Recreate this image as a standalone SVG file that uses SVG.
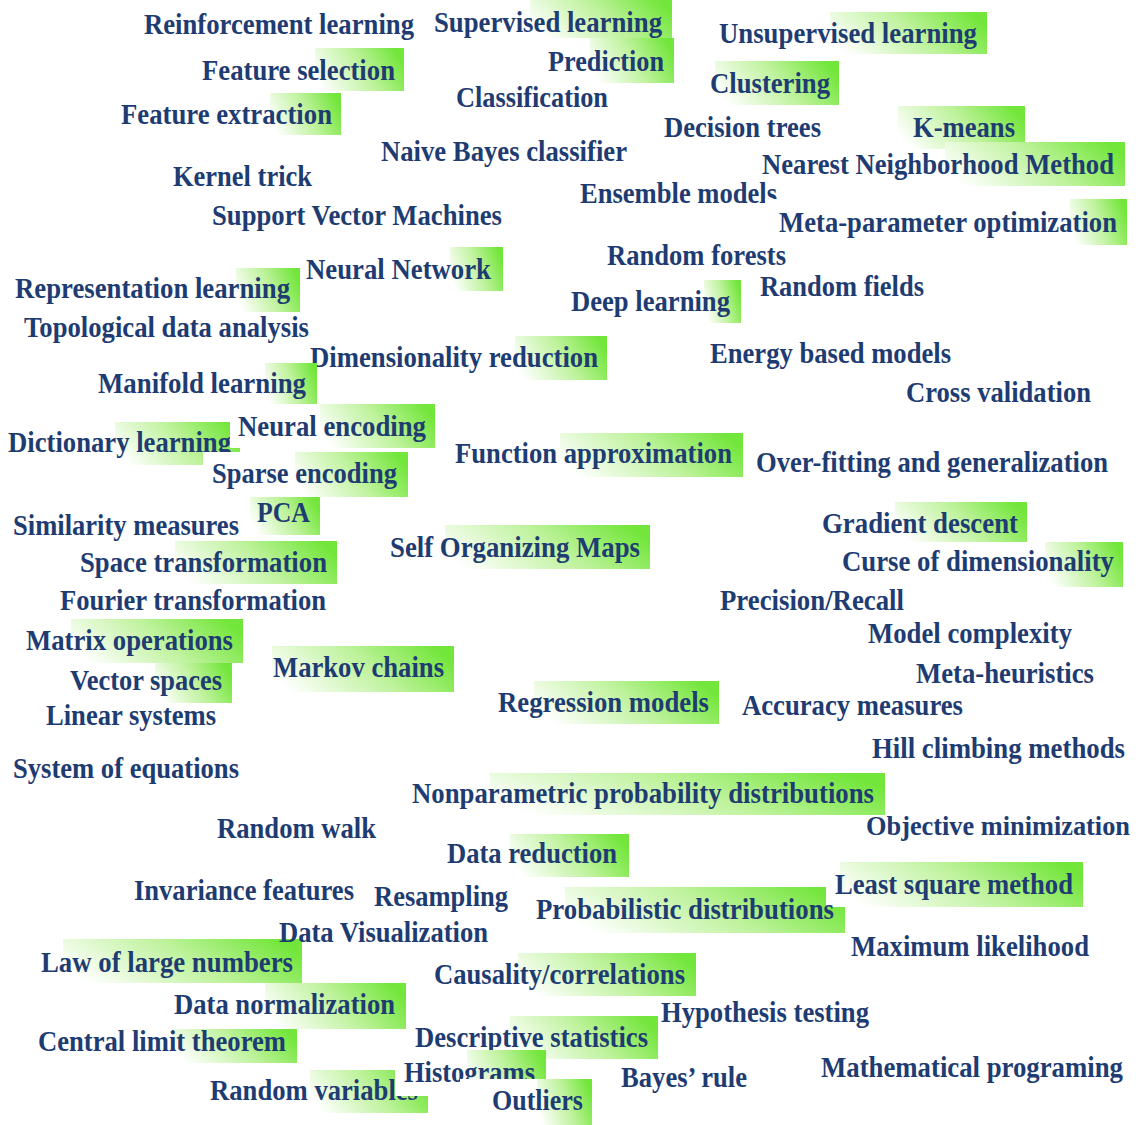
<svg xmlns="http://www.w3.org/2000/svg" width="1147" height="1125" viewBox="0 0 1147 1125">
<defs>
<linearGradient id="hlg" x1="0" y1="0.65" x2="1" y2="0.35">
<stop offset="0" stop-color="#ffffff"/>
<stop offset="0.55" stop-color="#bdf29a"/>
<stop offset="1" stop-color="#72e63a"/>
</linearGradient>
</defs>
<style>
.t{font-family:"Liberation Serif","Times New Roman",serif;font-weight:bold;font-size:29px;fill:#1e3c72}
.s{font-size:27px}
.hl{fill:url(#hlg)}
.cv{fill:#ffffff}
</style>
<rect width="1147" height="1125" fill="#ffffff"/>
<g id="connectors"/>
<g id="n-reinforcement"><text class="t" x="144" y="34" textLength="270" lengthAdjust="spacingAndGlyphs">Reinforcement learning</text></g>
<g id="n-supervised"><rect class="hl" x="530" y="-1" width="142" height="39"/><text class="t" x="434" y="32" textLength="228" lengthAdjust="spacingAndGlyphs">Supervised learning</text></g>
<g id="n-unsupervised"><rect class="hl" x="830" y="12" width="157" height="42"/><text class="t" x="719" y="43" textLength="258" lengthAdjust="spacingAndGlyphs">Unsupervised learning</text></g>
<g id="n-prediction"><rect class="hl" x="590" y="38" width="84" height="45"/><text class="t" x="548" y="71" textLength="116" lengthAdjust="spacingAndGlyphs">Prediction</text></g>
<g id="n-featsel"><rect class="hl" x="315" y="48" width="89" height="43"/><text class="t" x="202" y="80" textLength="193" lengthAdjust="spacingAndGlyphs">Feature selection</text></g>
<g id="n-clustering"><rect class="hl" x="715" y="61" width="124" height="44"/><text class="t" x="710" y="93" textLength="120" lengthAdjust="spacingAndGlyphs">Clustering</text></g>
<g id="n-classification"><text class="t" x="456" y="107" textLength="152" lengthAdjust="spacingAndGlyphs">Classification</text></g>
<g id="n-featext"><rect class="hl" x="270" y="93" width="71" height="42"/><text class="t" x="121" y="124" textLength="211" lengthAdjust="spacingAndGlyphs">Feature extraction</text></g>
<g id="n-dectrees"><text class="t" x="664" y="137" textLength="157" lengthAdjust="spacingAndGlyphs">Decision trees</text></g>
<g id="n-kmeans"><rect class="hl" x="898" y="106" width="127" height="43"/><text class="t" x="913" y="137" textLength="102" lengthAdjust="spacingAndGlyphs">K-means</text></g>
<g id="n-naivebayes"><text class="t" x="381" y="161" textLength="246" lengthAdjust="spacingAndGlyphs">Naive Bayes classifier</text></g>
<g id="n-nearest"><rect class="hl" x="945" y="142" width="180" height="44"/><text class="t" x="762" y="174" textLength="352" lengthAdjust="spacingAndGlyphs">Nearest Neighborhood Method</text></g>
<g id="n-kernel"><text class="t" x="173" y="186" textLength="139" lengthAdjust="spacingAndGlyphs">Kernel trick</text></g>
<g id="n-ensemble"><text class="t" x="580" y="203" textLength="197" lengthAdjust="spacingAndGlyphs">Ensemble models</text></g>
<g id="n-svm"><text class="t" x="212" y="225" textLength="290" lengthAdjust="spacingAndGlyphs">Support Vector Machines</text></g>
<g id="n-metaparam"><rect class="cv" x="765" y="199" width="305" height="46"/><rect class="hl" x="1070" y="199" width="57" height="46"/><text class="t" x="779" y="232" textLength="338" lengthAdjust="spacingAndGlyphs">Meta-parameter optimization</text></g>
<g id="n-randforests"><text class="t" x="607" y="265" textLength="179" lengthAdjust="spacingAndGlyphs">Random forests</text></g>
<g id="n-neuralnet"><rect class="hl" x="450" y="247" width="53" height="44"/><text class="t" x="306" y="279" textLength="185" lengthAdjust="spacingAndGlyphs">Neural Network</text></g>
<g id="n-randfields"><text class="t" x="760" y="296" textLength="164" lengthAdjust="spacingAndGlyphs">Random fields</text></g>
<g id="n-representation"><rect class="hl" x="236" y="268" width="64" height="44"/><text class="t" x="15" y="298" textLength="275" lengthAdjust="spacingAndGlyphs">Representation learning</text></g>
<g id="n-deep"><rect class="hl" x="704" y="280" width="37" height="43"/><text class="t" x="571" y="311" textLength="159" lengthAdjust="spacingAndGlyphs">Deep learning</text></g>
<g id="n-topological"><text class="t" x="24" y="337" textLength="285" lengthAdjust="spacingAndGlyphs">Topological data analysis</text></g>
<g id="n-energy"><text class="t" x="710" y="363" textLength="241" lengthAdjust="spacingAndGlyphs">Energy based models</text></g>
<g id="n-dimred"><rect class="hl" x="515" y="336" width="92" height="44"/><text class="t" x="310" y="367" textLength="288" lengthAdjust="spacingAndGlyphs">Dimensionality reduction</text></g>
<g id="n-manifold"><rect class="hl" x="265" y="363" width="52" height="43"/><text class="t" x="98" y="393" textLength="208" lengthAdjust="spacingAndGlyphs">Manifold learning</text></g>
<g id="n-crossval"><text class="t" x="906" y="402" textLength="185" lengthAdjust="spacingAndGlyphs">Cross validation</text></g>
<g id="n-dictionary"><rect class="hl" x="115" y="422" width="125" height="43"/><text class="t" x="8" y="452" textLength="223" lengthAdjust="spacingAndGlyphs">Dictionary learning</text></g>
<g id="n-neuralenc"><rect class="cv" x="230" y="404" width="90" height="44"/><rect class="hl" x="320" y="404" width="115" height="44"/><text class="t" x="238" y="436" textLength="188" lengthAdjust="spacingAndGlyphs">Neural encoding</text></g>
<g id="n-sparse"><rect class="cv" x="203" y="452" width="92" height="45"/><rect class="hl" x="295" y="452" width="113" height="45"/><text class="t" x="212" y="483" textLength="185" lengthAdjust="spacingAndGlyphs">Sparse encoding</text></g>
<g id="n-funcapprox"><rect class="hl" x="560" y="433" width="183" height="44"/><text class="t" x="455" y="463" textLength="277" lengthAdjust="spacingAndGlyphs">Function approximation</text></g>
<g id="n-overfit"><text class="t" x="756" y="472" textLength="352" lengthAdjust="spacingAndGlyphs">Over-fitting and generalization</text></g>
<g id="n-pca"><rect class="hl" x="250" y="497" width="70" height="38"/><text class="t" x="257" y="522" textLength="53" lengthAdjust="spacingAndGlyphs">PCA</text></g>
<g id="n-similarity"><text class="t" x="13" y="535" textLength="226" lengthAdjust="spacingAndGlyphs">Similarity measures</text></g>
<g id="n-graddesc"><rect class="hl" x="895" y="502" width="132" height="40"/><text class="t" x="822" y="533" textLength="196" lengthAdjust="spacingAndGlyphs">Gradient descent</text></g>
<g id="n-som"><rect class="hl" x="445" y="525" width="205" height="44"/><text class="t" x="390" y="557" textLength="250" lengthAdjust="spacingAndGlyphs">Self Organizing Maps</text></g>
<g id="n-spacetrans"><rect class="hl" x="175" y="541" width="162" height="43"/><text class="t" x="80" y="572" textLength="247" lengthAdjust="spacingAndGlyphs">Space transformation</text></g>
<g id="n-curse"><rect class="hl" x="1045" y="542" width="78" height="45"/><text class="t" x="842" y="571" textLength="272" lengthAdjust="spacingAndGlyphs">Curse of dimensionality</text></g>
<g id="n-fourier"><text class="t" x="60" y="610" textLength="266" lengthAdjust="spacingAndGlyphs">Fourier transformation</text></g>
<g id="n-precision"><text class="t" x="720" y="610" textLength="184" lengthAdjust="spacingAndGlyphs">Precision/Recall</text></g>
<g id="n-modelcomp"><text class="t" x="868" y="643" textLength="204" lengthAdjust="spacingAndGlyphs">Model complexity</text></g>
<g id="n-matrix"><rect class="hl" x="71" y="619" width="172" height="44"/><text class="t" x="26" y="650" textLength="207" lengthAdjust="spacingAndGlyphs">Matrix operations</text></g>
<g id="n-markov"><rect class="hl" x="272" y="646" width="182" height="46"/><text class="t" x="273" y="677" textLength="171" lengthAdjust="spacingAndGlyphs">Markov chains</text></g>
<g id="n-metaheur"><text class="t" x="916" y="683" textLength="178" lengthAdjust="spacingAndGlyphs">Meta-heuristics</text></g>
<g id="n-vector"><rect class="hl" x="155" y="663" width="77" height="40"/><text class="t" x="70" y="690" textLength="152" lengthAdjust="spacingAndGlyphs">Vector spaces</text></g>
<g id="n-regression"><rect class="hl" x="534" y="681" width="185" height="43"/><text class="t" x="498" y="712" textLength="211" lengthAdjust="spacingAndGlyphs">Regression models</text></g>
<g id="n-accuracy"><text class="t" x="742" y="715" textLength="221" lengthAdjust="spacingAndGlyphs">Accuracy measures</text></g>
<g id="n-linear"><text class="t" x="46" y="725" textLength="170" lengthAdjust="spacingAndGlyphs">Linear systems</text></g>
<g id="n-hill"><text class="t" x="872" y="758" textLength="253" lengthAdjust="spacingAndGlyphs">Hill climbing methods</text></g>
<g id="n-system"><text class="t" x="13" y="778" textLength="226" lengthAdjust="spacingAndGlyphs">System of equations</text></g>
<g id="n-nonparam"><rect class="hl" x="490" y="773" width="395" height="42"/><text class="t" x="412" y="803" textLength="462" lengthAdjust="spacingAndGlyphs">Nonparametric probability distributions</text></g>
<g id="n-objective"><text class="t s" x="866" y="835" textLength="264" lengthAdjust="spacingAndGlyphs">Objective minimization</text></g>
<g id="n-randwalk"><text class="t" x="217" y="838" textLength="159" lengthAdjust="spacingAndGlyphs">Random walk</text></g>
<g id="n-datared"><rect class="hl" x="510" y="834" width="119" height="43"/><text class="t" x="447" y="863" textLength="170" lengthAdjust="spacingAndGlyphs">Data reduction</text></g>
<g id="n-leastsq"><rect class="hl" x="840" y="862" width="243" height="45"/><text class="t" x="835" y="894" textLength="238" lengthAdjust="spacingAndGlyphs">Least square method</text></g>
<g id="n-invariance"><text class="t" x="134" y="900" textLength="220" lengthAdjust="spacingAndGlyphs">Invariance features</text></g>
<g id="n-resampling"><text class="t" x="374" y="906" textLength="134" lengthAdjust="spacingAndGlyphs">Resampling</text></g>
<g id="n-probdist"><path class="hl" d="M565 887 H826 V907 H845 V933 H565 Z"/><text class="t" x="536" y="919" textLength="298" lengthAdjust="spacingAndGlyphs">Probabilistic distributions</text></g>
<g id="n-law"><rect class="hl" x="63" y="939" width="239" height="44"/><text class="t" x="41" y="972" textLength="252" lengthAdjust="spacingAndGlyphs">Law of large numbers</text></g>
<g id="n-datavis"><text class="t" x="279" y="942" textLength="209" lengthAdjust="spacingAndGlyphs">Data Visualization</text></g>
<g id="n-maxlik"><text class="t" x="851" y="956" textLength="238" lengthAdjust="spacingAndGlyphs">Maximum likelihood</text></g>
<g id="n-causality"><rect class="hl" x="518" y="953" width="178" height="43"/><text class="t" x="434" y="984" textLength="251" lengthAdjust="spacingAndGlyphs">Causality/correlations</text></g>
<g id="n-datanorm"><rect class="hl" x="265" y="983" width="141" height="46"/><text class="t" x="174" y="1014" textLength="221" lengthAdjust="spacingAndGlyphs">Data normalization</text></g>
<g id="n-hypothesis"><text class="t" x="661" y="1022" textLength="208" lengthAdjust="spacingAndGlyphs">Hypothesis testing</text></g>
<g id="n-central"><rect class="hl" x="173" y="1029" width="124" height="34"/><text class="t" x="38" y="1051" textLength="248" lengthAdjust="spacingAndGlyphs">Central limit theorem</text></g>
<g id="n-descriptive"><rect class="hl" x="510" y="1016" width="148" height="43"/><text class="t" x="415" y="1047" textLength="233" lengthAdjust="spacingAndGlyphs">Descriptive statistics</text></g>
<g id="n-randvar"><rect class="hl" x="310" y="1070" width="118" height="43"/><text class="t" x="210" y="1100" textLength="208" lengthAdjust="spacingAndGlyphs">Random variables</text></g>
<g id="n-histograms"><rect class="cv" x="395" y="1050" width="72" height="46"/><rect class="hl" x="467" y="1050" width="79" height="46"/><text class="t" x="404" y="1082" textLength="131" lengthAdjust="spacingAndGlyphs">Histograms</text></g>
<g id="n-outliers"><rect class="cv" x="460" y="1079" width="77" height="46"/><rect class="hl" x="537" y="1079" width="55" height="46"/><text class="t" x="492" y="1110" textLength="91" lengthAdjust="spacingAndGlyphs">Outliers</text></g>
<g id="n-bayes"><text class="t" x="621" y="1087" textLength="126" lengthAdjust="spacingAndGlyphs">Bayes’ rule</text></g>
<g id="n-mathprog"><text class="t" x="821" y="1077" textLength="302" lengthAdjust="spacingAndGlyphs">Mathematical programing</text></g>
</svg>
